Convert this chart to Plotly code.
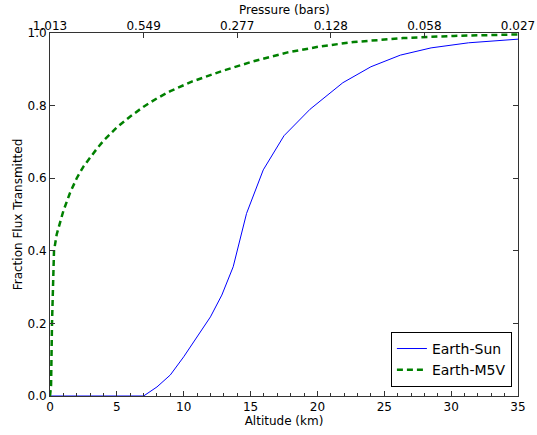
import plotly.graph_objects as go

# Earth-Sun transmission vs altitude
sun_alt = [0, 2, 4, 6, 7.0, 8.0, 9.0, 10.0, 11.0, 12.0, 12.85, 13.7, 14.7, 15.95, 17.5, 19.45, 21.9, 24.0, 26.2, 28.5, 31.3, 35.0]
sun_flux = [0, 0, 0, 0, 0.0, 0.025, 0.058, 0.108, 0.162, 0.218, 0.278, 0.356, 0.503, 0.623, 0.717, 0.790, 0.863, 0.907, 0.939, 0.959, 0.973, 0.983]

# Earth-M5V transmission vs altitude
m5_alt = [0, 0.08, 0.15, 0.22, 0.3, 0.5, 1.0, 1.5, 2.0, 2.5, 3.0, 3.5, 4.0, 5.0, 6.0, 7.0, 8.0, 9.0, 10.6, 12.84, 15.2, 17.7, 20.2, 22.7, 26.4, 30.2, 35.0]
m5_flux = [0, 0.03, 0.2, 0.33, 0.40, 0.445, 0.51, 0.56, 0.60, 0.632, 0.657, 0.681, 0.703, 0.740, 0.770, 0.797, 0.820, 0.840, 0.866, 0.895, 0.922, 0.946, 0.963, 0.975, 0.986, 0.992, 0.996]

x_ticks = [0, 5, 10, 15, 20, 25, 30, 35]
y_ticks = [0.0, 0.2, 0.4, 0.6, 0.8, 1.0]
pressure_pos = [0, 7, 14, 21, 28, 35]
pressure_labels = ["1.013", "0.549", "0.277", "0.128", "0.058", "0.027"]

FONT = "DejaVu Sans, Arial, sans-serif"
AX = "#333333"
FS = 12

fig = go.Figure()
fig.add_trace(go.Scatter(x=sun_alt, y=sun_flux, mode="lines", name="Earth-Sun",
                         line=dict(color="#0000ff", width=1)))
fig.add_trace(go.Scatter(x=m5_alt, y=m5_flux, mode="lines", name="Earth-M5V",
                         line=dict(color="#008000", width=2.5, dash="6px,4px")))
# invisible trace to activate the top pressure axis
fig.add_trace(go.Scatter(x=[0, 35], y=[0, 0], xaxis="x2", mode="lines",
                         line=dict(width=0), showlegend=False, hoverinfo="skip", opacity=0))

fig.update_layout(
    width=537, height=435,
    margin=dict(l=50, r=19, t=33, b=39),
    plot_bgcolor="white", paper_bgcolor="white",
    font=dict(family=FONT, size=FS, color="black"),
    xaxis=dict(range=[0, 35], tickvals=x_ticks, ticks="inside", ticklen=5, tickwidth=1,
               tickcolor=AX, showline=True, linecolor=AX, linewidth=1, mirror=False,
               showgrid=False, zeroline=False, automargin=False,
               minor=dict(dtick=1, ticks="inside", ticklen=3, tickcolor=AX, showgrid=False),
               title=dict(text="Altitude (km)", font=dict(size=FS), standoff=0),
               tickfont=dict(size=FS)),
    xaxis2=dict(range=[0, 35], overlaying="x", side="top", tickvals=pressure_pos,
                ticktext=pressure_labels, ticks="inside", ticklen=5, tickcolor=AX,
                showline=True, linecolor=AX, linewidth=1, showgrid=False, zeroline=False,
                automargin=False, ticklabelstandoff=-3,
                tickfont=dict(size=FS)),
    yaxis=dict(range=[0, 1.0], tickvals=y_ticks, tickformat=".1f", ticks="inside",
               ticklen=5, tickcolor=AX, showline=True, linecolor=AX, linewidth=1,
               mirror="ticks", showgrid=False, zeroline=False, automargin=False,
               title=dict(text="Fraction Flux Transmitted", font=dict(size=FS), standoff=2),
               tickfont=dict(size=FS)),
    legend=dict(x=0.987, y=0.025, xanchor="right", yanchor="bottom",
                bordercolor="black", borderwidth=1, bgcolor="white",
                font=dict(size=14), tracegroupgap=0),
    annotations=[dict(text="Pressure (bars)", xref="paper", yref="paper",
                      x=0.5, y=1 + 23 / 363, xanchor="center", yanchor="middle",
                      showarrow=False, font=dict(size=FS))],
)

fig.write_html("out.html", config={"displayModeBar": False},
               post_script="document.body.style.margin='0px';")
